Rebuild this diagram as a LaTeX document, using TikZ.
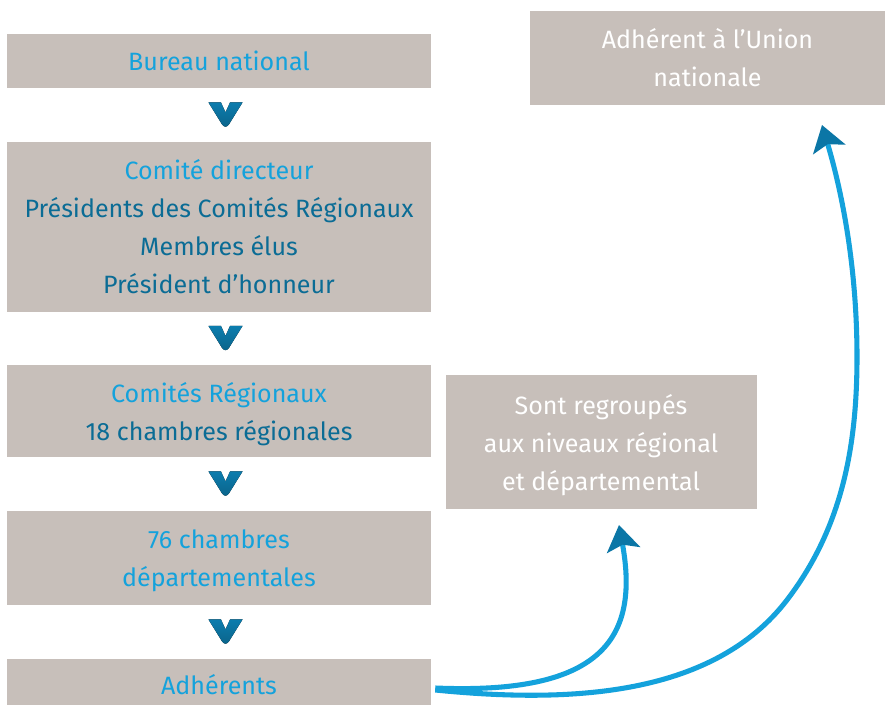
\documentclass[tikz,border=0pt]{standalone}
\usepackage{fontspec}
\setmainfont{Fira Sans}
\usetikzlibrary{arrows.meta}
\usetikzlibrary{calc}
\definecolor{boxgrey}{HTML}{C7BFBA}
\definecolor{lightblue}{HTML}{14A2DC}
\definecolor{darkblue}{HTML}{0B6C95}
\definecolor{headblue}{HTML}{0B76A6}
\tikzset{b/.style={fill=boxgrey,inner sep=0pt,align=center,font=\fontsize{18.8}{28.5}\selectfont}}
\tikzset{w/.style={b,minimum width=318pt}}
\tikzset{flow/.style={lightblue,line width=3.8pt,-{Stealth[length=19pt,width=25pt,inset=4pt,color=headblue]}}}

\begin{document}
\begin{tikzpicture}[x=0.75pt,y=-0.75pt]
            \useasboundingbox (0,0) rectangle (886,705);
            \node[w,minimum height=40.5pt] (bureau) at (219,61) {\color{lightblue}Bureau national};
            \node[w,minimum height=127.5pt] (comite) at (219,227) {\color{lightblue}Comité directeur\\
              \color{darkblue}Présidents des Comités Régionaux\\
              \color{darkblue}Membres élus\\
              \color{darkblue}Président d’honneur};
            \node[w,minimum height=69pt,text depth=0pt] (regions) at (219,411) {\color{lightblue}Comités Régionaux\\
              \color{darkblue}18 chambres régionales};
            \node[w,minimum height=70.5pt,text depth=0pt] (depts) at (219,558) {\color{lightblue}76 chambres\\
              \color{lightblue}départementales};
            \node[w,minimum height=34.5pt,text height=19.5pt,text depth=0pt] (adh) at (219,682) {\color{lightblue}Adhérents};
            \node[b,minimum width=266.25pt,minimum height=70.5pt,text=white] (union) at (707.5,58) {Adhérent à l’Union\\nationale};
            \node[b,minimum width=233.25pt,minimum height=100.5pt,text=white,text depth=0pt] (groupes) at (601,442) {Sont regroupés\\aux niveaux régional\\et départemental};
            \foreach \a/\z in {bureau/comite,comite/regions,regions/depts,depts/adh}
              \fill[top color=headblue!85!lightblue,bottom color=darkblue!90!black]
                ($(\a.south)!0.5!(\z.north)+(6.5,0)$) ++(-17,-12.5) -- ++(12.5,0) -- ++(4.5,10) -- ++(4.5,-10) -- ++(12.5,0)
                [rounded corners=5pt] -- ++(-17,27.5) [sharp corners] -- cycle;
            \coordinate (tipR) at (619,525);
            \coordinate (tipU) at (822,125);
            \draw[flow] ([shift={(4,6)}]adh.east) .. controls (600,695) and (640,640) .. (tipR);
            \draw[flow] ([shift={(4,8)}]adh.east) .. controls (575,704) and (714,695) .. (787,600)
              .. controls (842,528) and (857,447) .. (857,357)
              .. controls (857,277) and (845,202) .. (tipU);
          \end{tikzpicture}
\end{document}
